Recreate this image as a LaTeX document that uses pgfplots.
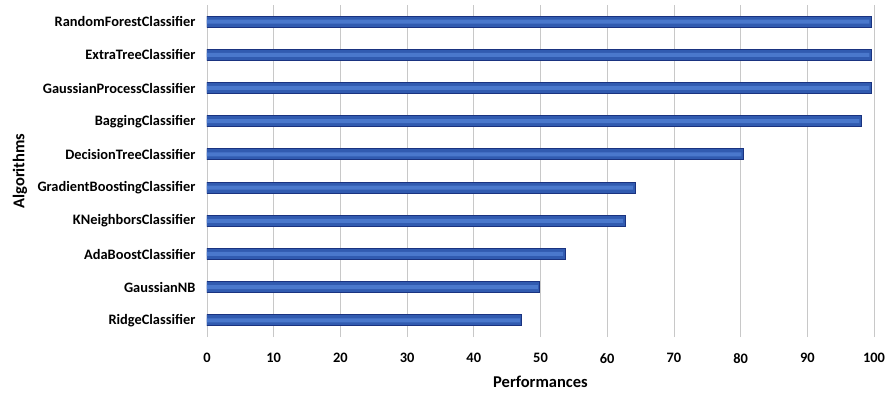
\documentclass[border=0pt]{standalone}
\usepackage{pgfplots}
\pgfplotsset{compat=1.18}
\usepackage{fontspec}
\setmainfont{Carlito}
\definecolor{barin}{HTML}{4A78CC}
\definecolor{barout}{HTML}{315BB0}
\definecolor{barline}{HTML}{1A3380}
\definecolor{gridc}{HTML}{C8C8C8}
\begin{document}
\begin{tikzpicture}
\path[use as bounding box] (-207pt,-57pt) rectangle (680pt,337pt);
\begin{axis}[
  at={(0,0)}, anchor=south west,
  scale only axis,
  width=667pt, height=332pt,
  xbar,
  xmin=0, xmax=100,
  ymin=-0.5, ymax=9.5,
  xtick={0,10,...,100},
  ytick={0,...,9},
  yticklabels={RidgeClassifier,GaussianNB,AdaBoostClassifier,KNeighborsClassifier,GradientBoostingClassifier,DecisionTreeClassifier,BaggingClassifier,GaussianProcessClassifier,ExtraTreeClassifier,RandomForestClassifier},
  axis line style={draw=none},
  major tick length=0pt,
  xmajorgrids,
  grid style={gridc, line width=0.8pt},
  /pgf/number format/assume math mode=true,
  tick label style={font=\fontsize{14.4}{16}\selectfont\bfseries},
  xticklabel style={yshift=-13pt},
  yticklabel style={xshift=-8pt},
  xlabel={Performances},
  ylabel={Algorithms},
  label style={font=\fontsize{16.5}{19}\selectfont\bfseries},
  xlabel style={at={(axis description cs:0.5,0)}, anchor=center, yshift=-45pt},
  ylabel style={at={(axis description cs:0,0.5)}, anchor=center, yshift=187pt},
]
\addplot[bar width=11pt, bar shift=0pt, fill=barout, draw=barline, line width=1pt]
coordinates {
(47.2,0) (49.9,1) (53.7,2) (62.7,3) (64.2,4) (80.4,5) (98.1,6) (99.6,7) (99.6,8) (99.6,9)
};
\addplot[bar width=4pt, bar shift=0pt, fill=barin, draw=none]
coordinates {
(46.9,0) (49.6,1) (53.4,2) (62.4,3) (63.9,4) (80.1,5) (97.8,6) (99.3,7) (99.3,8) (99.3,9)
};
\end{axis}
\end{tikzpicture}
\end{document}
